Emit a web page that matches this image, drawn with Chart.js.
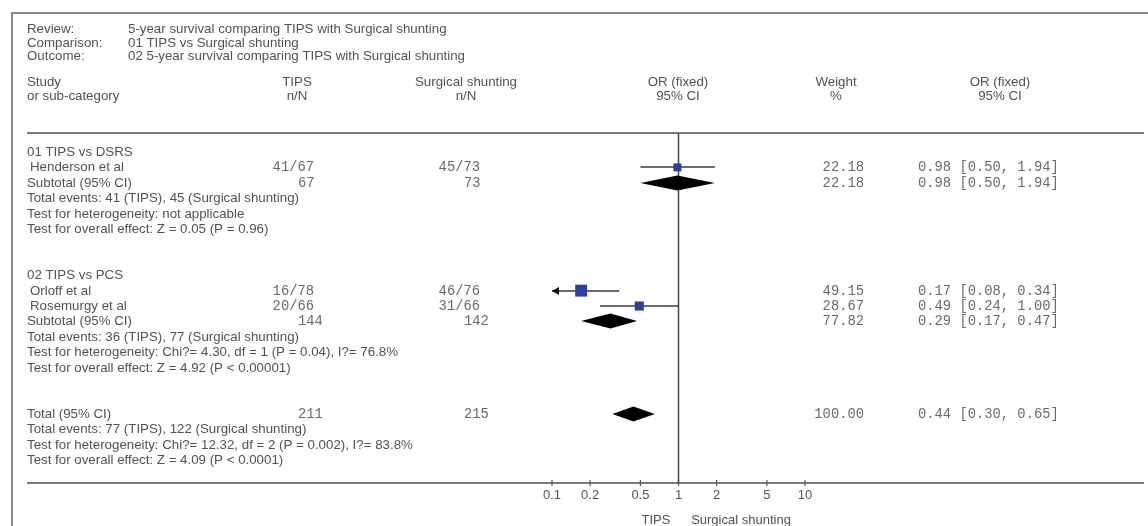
<!DOCTYPE html>
<html><head><meta charset="utf-8">
<script src="https://cdn.jsdelivr.net/npm/chart.js@4.4.1/dist/chart.umd.min.js"></script>
<style>html,body{margin:0;padding:0;background:#fff}#wrap{position:relative;width:1148px;height:526px}</style>
</head><body><div id="wrap"><canvas id="c" width="1148" height="526"></canvas></div>
<script>
// ---- data ----
const metaLabels = ['Review:', 'Comparison:', 'Outcome:'];
const metaValues = ['5-year survival comparing TIPS with Surgical shunting', '01 TIPS vs Surgical shunting', '02 5-year survival comparing TIPS with Surgical shunting'];
const columnHeads1 = ['Study', 'TIPS', 'Surgical shunting', 'OR (fixed)', 'Weight', 'OR (fixed)'];
const columnHeads2 = ['or sub-category', 'n/N', 'n/N', '95% CI', '%', '95% CI'];
const groupNames = ['01 TIPS vs DSRS', '02 TIPS vs PCS'];
const studyNames = ['Henderson et al', 'Orloff et al', 'Rosemurgy et al'];
const studyGroup = [0, 1, 1];
const tipsEvents = [41, 16, 20];
const tipsTotal = [67, 78, 66];
const surgEvents = [45, 46, 31];
const surgTotal = [73, 76, 66];
const studyOR = [0.98, 0.17, 0.49];
const studyLow = [0.50, 0.08, 0.24];
const studyHigh = [1.94, 0.34, 1.00];
const studyWeight = [22.18, 49.15, 28.67];
const subTipsN = [67, 144];
const subSurgN = [73, 142];
const subOR = [0.98, 0.29];
const subLow = [0.50, 0.17];
const subHigh = [1.94, 0.47];
const subWeight = [22.18, 77.82];
const subEvents = ['Total events: 41 (TIPS), 45 (Surgical shunting)', 'Total events: 36 (TIPS), 77 (Surgical shunting)'];
const subHetero = ['Test for heterogeneity: not applicable', 'Test for heterogeneity: Chi?= 4.30, df = 1 (P = 0.04), I?= 76.8%'];
const subEffect = ['Test for overall effect: Z = 0.05 (P = 0.96)', 'Test for overall effect: Z = 4.92 (P < 0.00001)'];
const totalTipsN = 211, totalSurgN = 215;
const totalOR = 0.44, totalLow = 0.30, totalHigh = 0.65, totalWeight = 100.00;
const totalTexts = ['Total events: 77 (TIPS), 122 (Surgical shunting)', 'Test for heterogeneity: Chi?= 12.32, df = 2 (P = 0.002), I?= 83.8%', 'Test for overall effect: Z = 4.09 (P < 0.0001)'];
const xTicks = [0.1, 0.2, 0.5, 1, 2, 5, 10];
const axisLabels = ['TIPS', 'Surgical shunting'];

// ---- row layout (line numbers) ----
const rows = [];
let ln = 0;
groupNames.forEach((g, gi) => {
  rows.push({type: 'group', g: gi, line: ln++});
  studyNames.forEach((s, si) => { if (studyGroup[si] === gi) rows.push({type: 'study', i: si, line: ln++}); });
  rows.push({type: 'sub', g: gi, line: ln++});
  rows.push({type: 'text', text: subEvents[gi], line: ln++});
  rows.push({type: 'text', text: subHetero[gi], line: ln++});
  rows.push({type: 'text', text: subEffect[gi], line: ln++});
  ln += 2;
});
rows.push({type: 'total', line: ln++});
totalTexts.forEach(t => rows.push({type: 'text', text: t, line: ln++}));

const SANS = '"Liberation Sans", Arial, sans-serif';
const MONO = '"Liberation Mono", "Courier New", monospace';
const TXT = '#525252', NUM = '#6a6a6a';
const FS = '13.3px ';

function fmt2(v) { return v.toFixed(2); }
function ciText(o, l, h) { return fmt2(o) + ' [' + fmt2(l) + ', ' + fmt2(h) + ']'; }

const forest = {
  id: 'forest',
  beforeDatasetsDraw(chart) {
    const {ctx, chartArea: a, scales: {x, y}} = chart;
    ctx.save();
    // frame
    ctx.strokeStyle = '#8a8a8a'; ctx.lineWidth = 2;
    ctx.beginPath(); ctx.moveTo(12, 530); ctx.lineTo(12, 13); ctx.lineTo(1150, 13); ctx.stroke();
    // header rule and bottom rule
    ctx.strokeStyle = '#7a7a7a'; ctx.lineWidth = 2;
    ctx.beginPath(); ctx.moveTo(27, a.top); ctx.lineTo(1144, a.top); ctx.stroke();
    ctx.beginPath(); ctx.moveTo(27, a.bottom); ctx.lineTo(1144, a.bottom); ctx.stroke();
    // ticks
    ctx.strokeStyle = '#555'; ctx.lineWidth = 1.2;
    xTicks.forEach(v => { const px = x.getPixelForValue(v); ctx.beginPath(); ctx.moveTo(px, a.bottom - 3); ctx.lineTo(px, a.bottom + 3); ctx.stroke(); });
    // meta
    ctx.fillStyle = TXT; ctx.textBaseline = 'middle'; ctx.font = FS + SANS; ctx.textAlign = 'left';
    const metaY = [29, 43, 56];
    metaLabels.forEach((l, i) => { ctx.fillText(l, 27, metaY[i]); ctx.fillText(metaValues[i], 128, metaY[i]); });
    // column heads
    const headX = [27, 297, 466, 678, 836, 1000];
    [columnHeads1, columnHeads2].forEach((arr, r) => {
      arr.forEach((t, i) => { ctx.textAlign = i === 0 ? 'left' : 'center'; ctx.fillText(t, headX[i], r === 0 ? 82 : 96); });
    });
    // null line
    const x1 = x.getPixelForValue(1);
    ctx.strokeStyle = '#444'; ctx.lineWidth = 1.5;
    ctx.beginPath(); ctx.moveTo(x1, a.top); ctx.lineTo(x1, a.bottom); ctx.stroke();
    // rows
    rows.forEach(r => {
      const py = Math.round(y.getPixelForValue(r.line));
      ctx.textAlign = 'left';
      if (r.type === 'group' || r.type === 'text') {
        ctx.font = FS + SANS; ctx.fillStyle = TXT;
        ctx.fillText(r.type === 'group' ? groupNames[r.g] : r.text, 27, py);
      } else if (r.type === 'study') {
        const i = r.i;
        ctx.font = FS + SANS; ctx.fillStyle = TXT; ctx.fillText(studyNames[i], 30, py);
        ctx.font = '13.8px ' + MONO; ctx.fillStyle = NUM;
        ctx.textAlign = 'right';
        ctx.fillText(tipsEvents[i] + '/' + tipsTotal[i], 314, py);
        ctx.fillText(surgEvents[i] + '/' + surgTotal[i], 480, py);
        ctx.fillText(fmt2(studyWeight[i]), 864, py);
        ctx.textAlign = 'left';
        ctx.fillText(ciText(studyOR[i], studyLow[i], studyHigh[i]), 918, py);
        // CI whisker
        const lo = Math.max(studyLow[i], x.min), hi = Math.min(studyHigh[i], x.max);
        const pl = x.getPixelForValue(lo), ph = x.getPixelForValue(hi);
        ctx.strokeStyle = '#3a3a3a'; ctx.lineWidth = 1.5;
        ctx.beginPath(); ctx.moveTo(pl, py); ctx.lineTo(ph, py); ctx.stroke();
        ctx.fillStyle = '#111';
        if (studyLow[i] < x.min) { ctx.beginPath(); ctx.moveTo(pl, py); ctx.lineTo(pl + 7, py - 4); ctx.lineTo(pl + 7, py + 4); ctx.closePath(); ctx.fill(); }
        if (studyHigh[i] > x.max) { ctx.beginPath(); ctx.moveTo(ph, py); ctx.lineTo(ph - 7, py - 4); ctx.lineTo(ph - 7, py + 4); ctx.closePath(); ctx.fill(); }
      } else if (r.type === 'sub' || r.type === 'total') {
        const isT = r.type === 'total';
        const o = isT ? totalOR : subOR[r.g], l = isT ? totalLow : subLow[r.g], h = isT ? totalHigh : subHigh[r.g];
        ctx.font = FS + SANS; ctx.fillStyle = TXT; ctx.fillText(isT ? 'Total (95% CI)' : 'Subtotal (95% CI)', 27, py);
        ctx.font = '13.8px ' + MONO; ctx.fillStyle = NUM;
        ctx.fillText(String(isT ? totalTipsN : subTipsN[r.g]), 298, py);
        ctx.fillText(String(isT ? totalSurgN : subSurgN[r.g]), 464, py);
        ctx.textAlign = 'right';
        ctx.fillText(fmt2(isT ? totalWeight : subWeight[r.g]), 864, py);
        ctx.textAlign = 'left';
        ctx.fillText(ciText(o, l, h), 918, py);
        // diamond
        const pl = x.getPixelForValue(l), pc = x.getPixelForValue(o), ph = x.getPixelForValue(h);
        ctx.fillStyle = '#000';
        ctx.beginPath(); ctx.moveTo(pl, py); ctx.lineTo(pc, py - 7.5); ctx.lineTo(ph, py); ctx.lineTo(pc, py + 7.5); ctx.closePath(); ctx.fill();
      }
    });
    // axis side labels
    ctx.font = '13px ' + SANS; ctx.fillStyle = TXT; ctx.textAlign = 'center';
    ctx.fillText(axisLabels[0], 656, 520);
    ctx.fillText(axisLabels[1], 741, 520);
    ctx.restore();
  }
};

new Chart(document.getElementById('c'), {
  type: 'scatter',
  data: {
    datasets: [{
      data: studyNames.map((n, i) => ({x: studyOR[i], y: rows.find(r => r.type === 'study' && r.i === i).line})),
      pointStyle: 'rect',
      pointRadius: (c) => 1.7 * Math.sqrt(studyWeight[c.dataIndex]) / Math.SQRT2,
      pointHoverRadius: (c) => 1.7 * Math.sqrt(studyWeight[c.dataIndex]) / Math.SQRT2,
      backgroundColor: '#2f3d9c',
      borderWidth: 0,
      clip: false
    }]
  },
  options: {
    responsive: false,
    animation: false,
    devicePixelRatio: 1,
    layout: {padding: {left: 552, right: 343, top: 133, bottom: 0}},
    plugins: {legend: {display: false}, tooltip: {enabled: false}},
    scales: {
      x: {
        type: 'logarithmic', min: 0.1, max: 10, position: 'bottom',
        afterBuildTicks(s) { s.ticks = xTicks.map(v => ({value: v})); },
        afterFit(s) { s.height = 43; },
        grid: {display: false, drawTicks: false}, border: {display: false},
        ticks: {callback: (v) => String(v), font: {family: SANS, size: 13}, color: '#555', padding: 5, autoSkip: false, maxRotation: 0}
      },
      y: {type: 'linear', reverse: true, min: -1.234, max: 21.49, display: false}
    }
  },
  plugins: [forest]
});
</script>
</body></html>
